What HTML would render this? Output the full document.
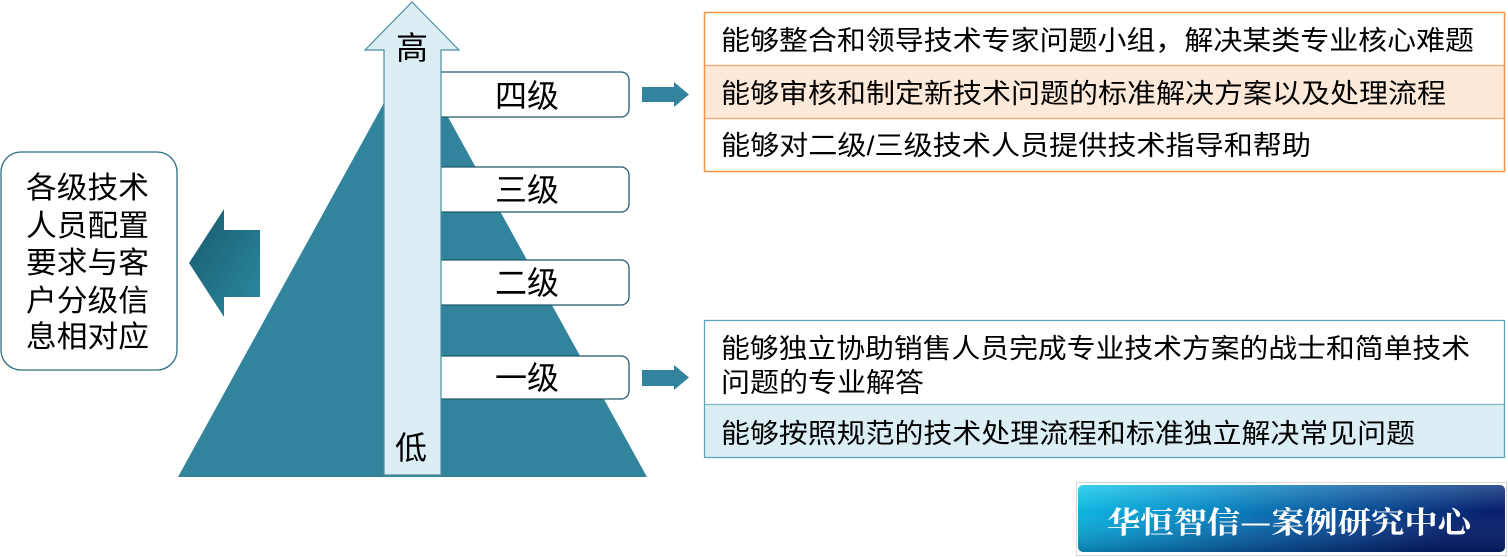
<!DOCTYPE html>
<html>
<head>
<meta charset="utf-8">
<style>
  html,body{margin:0;padding:0;background:#ffffff;}
  body{width:1508px;height:557px;overflow:hidden;}
  svg{display:block;}
  text{font-family:"Liberation Sans","Noto Sans CJK SC",sans-serif;}
</style>
</head>
<body>
<svg width="1508" height="557" viewBox="0 0 1508 557" xmlns="http://www.w3.org/2000/svg">
  <defs>
    <linearGradient id="lg" x1="0" y1="0" x2="1" y2="1">
      <stop offset="0" stop-color="#185a6d"/>
      <stop offset="1" stop-color="#2b8aa0"/>
    </linearGradient>
    <linearGradient id="logo" x1="0" y1="0" x2="1" y2="0.3">
      <stop offset="0" stop-color="#10c6ea"/>
      <stop offset="0.3" stop-color="#0a95cc"/>
      <stop offset="0.65" stop-color="#0a579e"/>
      <stop offset="1" stop-color="#061f6c"/>
    </linearGradient>
    <linearGradient id="gloss" x1="0" y1="0" x2="0" y2="1">
      <stop offset="0" stop-color="#ffffff" stop-opacity="0.18"/>
      <stop offset="0.4" stop-color="#ffffff" stop-opacity="0.0"/>
      <stop offset="1" stop-color="#000000" stop-opacity="0.18"/>
    </linearGradient>
  </defs>

  <!-- Left box -->
  <rect x="1" y="152" width="176" height="218" rx="20" ry="20" fill="#ffffff" stroke="#2e6f80" stroke-width="1.3"/>
  <g font-size="30" fill="#000">
    <text x="26" y="198" textLength="123" lengthAdjust="spacingAndGlyphs">各级技术</text>
    <text x="26" y="236" textLength="123" lengthAdjust="spacingAndGlyphs">人员配置</text>
    <text x="26" y="273" textLength="123" lengthAdjust="spacingAndGlyphs">要求与客</text>
    <text x="26" y="311" textLength="123" lengthAdjust="spacingAndGlyphs">户分级信</text>
    <text x="26" y="347" textLength="123" lengthAdjust="spacingAndGlyphs">息相对应</text>
  </g>

  <!-- Left big arrow -->
  <polygon points="189,263 224,209 224,230 260,230 260,297 224,297 224,317" fill="url(#lg)"/>

  <!-- Pyramid -->
  <polygon points="412,52 647,477 178,477" fill="#31849B"/>

  <!-- Level boxes -->
  <g fill="#ffffff" stroke="#215b6b" stroke-width="1.3">
    <path d="M430,72 H621 A8,8 0 0 1 629,80 V109 A8,8 0 0 1 621,117 H430 Z"/>
    <path d="M430,167 H621 A8,8 0 0 1 629,175 V204 A8,8 0 0 1 621,212 H430 Z"/>
    <path d="M430,260 H621 A8,8 0 0 1 629,268 V297 A8,8 0 0 1 621,305 H430 Z"/>
    <path d="M430,356 H621 A8,8 0 0 1 629,364 V391 A8,8 0 0 1 621,399 H430 Z"/>
  </g>
  <g font-size="32" fill="#000" text-anchor="middle">
    <text x="527" y="107">四级</text>
    <text x="527" y="201">三级</text>
    <text x="527" y="294">二级</text>
    <text x="527" y="389">一级</text>
  </g>

  <!-- Up arrow -->
  <polygon points="412,2 459,50 441,50 441,475 384,475 384,50 365,50" fill="#DAEEF3" stroke="#4d8ea1" stroke-width="1.2"/>
  <g font-size="32" fill="#000" text-anchor="middle">
    <text x="412" y="59">高</text>
    <text x="411" y="459">低</text>
  </g>

  <!-- Small right arrows -->
  <polygon points="642,87 674,87 674,82 689,94.5 674,107 674,102 642,102" fill="#31849B"/>
  <polygon points="642,370 674,370 674,365 689,377.5 674,390 674,386 642,386" fill="#31849B"/>

  <!-- Top right table -->
  <rect x="704.5" y="12.5" width="800" height="53" fill="#ffffff"/>
  <rect x="704.5" y="65.5" width="800" height="53" fill="#FDE9D9"/>
  <rect x="704.5" y="118.5" width="800" height="53" fill="#ffffff"/>
  <line x1="704.5" y1="65.5" x2="1504.5" y2="65.5" stroke="#F6A76E" stroke-width="1.3"/>
  <line x1="704.5" y1="118.5" x2="1504.5" y2="118.5" stroke="#F6A76E" stroke-width="1.3"/>
  <rect x="704.5" y="12.5" width="800" height="159" fill="none" stroke="#F79646" stroke-width="1.5"/>
  <g font-size="27" fill="#000">
    <text x="721" y="50" textLength="753" lengthAdjust="spacingAndGlyphs">能够整合和领导技术专家问题小组，解决某类专业核心难题</text>
    <text x="721" y="103" textLength="725" lengthAdjust="spacingAndGlyphs">能够审核和制定新技术问题的标准解决方案以及处理流程</text>
    <text x="721" y="155" textLength="590" lengthAdjust="spacingAndGlyphs">能够对二级/三级技术人员提供技术指导和帮助</text>
  </g>

  <!-- Bottom right table -->
  <rect x="704.5" y="320.5" width="800" height="84" fill="#ffffff"/>
  <rect x="704.5" y="404.5" width="800" height="53" fill="#DAEEF3"/>
  <line x1="704.5" y1="404.5" x2="1504.5" y2="404.5" stroke="#7fb6c7" stroke-width="1.2"/>
  <rect x="704.5" y="320.5" width="800" height="137" fill="none" stroke="#5ea3b8" stroke-width="1.3"/>
  <g font-size="27" fill="#000">
    <text x="721" y="358" textLength="749" lengthAdjust="spacingAndGlyphs">能够独立协助销售人员完成专业技术方案的战士和简单技术</text>
    <text x="721" y="392" textLength="203" lengthAdjust="spacingAndGlyphs">问题的专业解答</text>
    <text x="721" y="443" textLength="694" lengthAdjust="spacingAndGlyphs">能够按照规范的技术处理流程和标准独立解决常见问题</text>
  </g>

  <!-- Logo -->
  <rect x="1076.5" y="482.5" width="430" height="73" fill="none" stroke="#b0b0b0" stroke-width="1" stroke-dasharray="1,1"/>
  <rect x="1078" y="485" width="427" height="67" rx="5" ry="5" fill="url(#logo)"/>
  <rect x="1078" y="485" width="427" height="67" rx="5" ry="5" fill="url(#gloss)"/>
  <text x="1107" y="533" font-size="30" font-weight="bold" fill="#ffffff" textLength="364" lengthAdjust="spacingAndGlyphs" style="font-family:'Noto Serif CJK SC','Liberation Serif',serif;">华恒智信—案例研究中心</text>
</svg>
</body>
</html>
